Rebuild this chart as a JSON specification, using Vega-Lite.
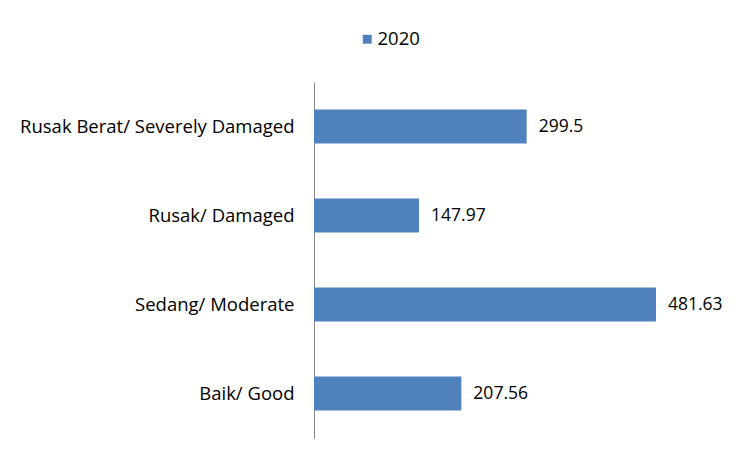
{
  "$schema": "https://vega.github.io/schema/vega-lite/v6.json",
  "width": 426,
  "height": 356,
  "autosize": {"type": "none"},
  "padding": {"left": 314, "top": 82, "right": 15, "bottom": 19},
  "background": "white",
  "config": {"view": {"stroke": null}, "font": "Open Sans"},
  "data": {"values": [
    {"kategori": "Rusak Berat/ Severely Damaged", "tahun": "2020", "nilai": 299.5, "label": "299.5"},
    {"kategori": "Rusak/ Damaged", "tahun": "2020", "nilai": 147.97, "label": "147.97"},
    {"kategori": "Sedang/ Moderate", "tahun": "2020", "nilai": 481.63, "label": "481.63"},
    {"kategori": "Baik/ Good", "tahun": "2020", "nilai": 207.56, "label": "207.56"}
  ]},
  "encoding": {
    "y": {"field": "kategori", "type": "nominal", "sort": null,
      "scale": {"paddingInner": 0.62, "paddingOuter": 0.31},
      "axis": {"title": null, "ticks": false, "domainColor": "#868686", "domainWidth": 1,
        "labelFontSize": 18.5, "labelColor": "#000000", "labelPadding": 20, "labelFont": "Open Sans", "labelLimit": 400}},
    "x": {"field": "nilai", "type": "quantitative", "scale": {"domain": [0, 600]}, "axis": null}
  },
  "layer": [
    {"mark": {"type": "bar", "color": "#4F81BD"},
     "encoding": {"color": {"field": "tahun", "type": "nominal", "scale": {"range": ["#4F81BD"]},
       "legend": {"title": null, "orient": "none", "legendX": 44, "legendY": -52, "symbolType": "square", "symbolSize": 80, "symbolOffset": 0, "labelOffset": 1, "labelFontSize": 18.5, "labelColor": "#000000", "labelFont": "Open Sans", "symbolStrokeWidth": 0}}}},
    {"mark": {"type": "text", "align": "left", "baseline": "middle", "dx": 12, "fontSize": 17.5, "color": "#000000", "font": "Open Sans"},
     "encoding": {"text": {"field": "label"}}}
  ]
}
